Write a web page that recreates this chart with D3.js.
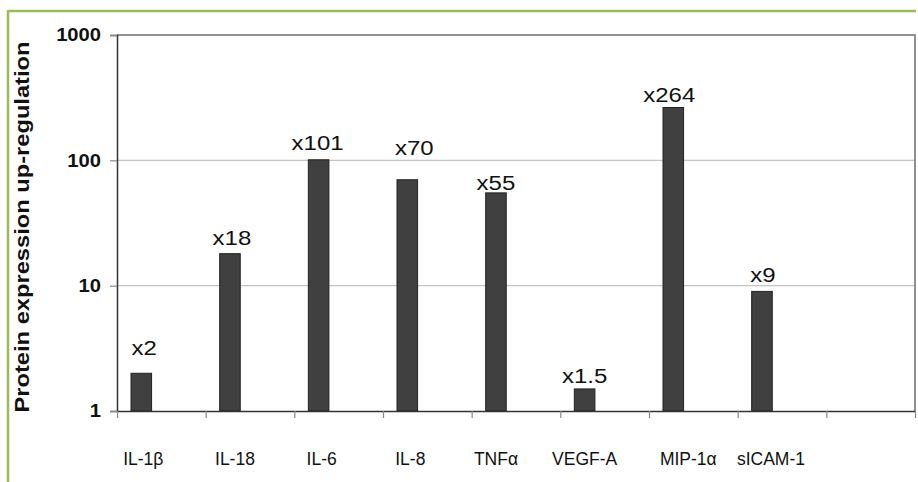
<!DOCTYPE html>
<html>
<head>
<meta charset="utf-8">
<script src="https://cdn.jsdelivr.net/npm/d3@7/dist/d3.min.js"></script>
<style>
  html, body { margin: 0; padding: 0; background: #fff; }
  svg { display: block; font-family: Arial, "Liberation Sans", Helvetica, sans-serif; }
</style>
</head>
<body>
<svg id="chart" width="918" height="482"></svg>
<script>
// Cytokine / chemokine protein up-regulation (fold change, log scale)
const categories = ["IL-1β", "IL-18", "IL-6", "IL-8", "TNFα", "VEGF-A", "MIP-1α", "sICAM-1"];
const foldChange = [2, 18, 101, 70, 55, 1.5, 264, 9];
const valueLabels = ["x2", "x18", "x101", "x70", "x55", "x1.5", "x264", "x9"];
const yTicks = [1, 10, 100, 1000];
const yTitle = "Protein expression up-regulation";

// Hand-placed annotation offsets (px): lift above bar top, horizontal shift
const labelLift = [18, 9, 10, 25, 3, 6, 5, 9];
const labelShift = [3, 2, -1, 7, 0, 0, -4, 1];
const tickLabelShift = [2, 5, 3, 3, 0, 0, 15, 9];

const svg = d3.select("#chart");
const plot = { left: 117, right: 915, top: 35, bottom: 411 };
const slots = categories.length + 1; // one empty slot at the right end

// Stretch text along its writing direction
function widen(sel, k) {
  sel.each(function () {
    const len = this.getComputedTextLength();
    d3.select(this).attr("textLength", len * k).attr("lengthAdjust", "spacingAndGlyphs");
  });
}

// Frame lines
const green = "#9bbb59";
svg.append("line").attr("x1", 8).attr("x2", 916).attr("y1", 11).attr("y2", 11)
  .attr("stroke", green).attr("stroke-width", 2.5);
svg.append("line").attr("x1", 8).attr("x2", 8).attr("y1", 10).attr("y2", 482)
  .attr("stroke", green).attr("stroke-width", 2.5);

const x = d3.scaleBand().domain(d3.range(slots)).range([plot.left, plot.right]).paddingInner(0).paddingOuter(0);
const y = d3.scaleLog().domain([1, 1000]).range([plot.bottom, plot.top]);
const bw = x.bandwidth();
const barOffset = bw * 0.158;
const barWidth = bw * 0.232;
const barCenter = i => x(i) + barOffset + barWidth / 2;

// Gridlines
svg.append("g").selectAll("line").data(yTicks.filter(t => t > 1 && t < 1000)).join("line")
  .attr("x1", plot.left).attr("x2", plot.right)
  .attr("y1", d => y(d)).attr("y2", d => y(d))
  .attr("stroke", "#c4c4c4").attr("stroke-width", 1.3);

// Plot border (top / right)
svg.append("path")
  .attr("d", `M${plot.left},${y(1000)}H${plot.right}V${plot.bottom}`)
  .attr("fill", "none").attr("stroke", "#6e6e6e").attr("stroke-width", 1.5);

// Bars
svg.append("g").selectAll("rect").data(foldChange).join("rect")
  .attr("x", (d, i) => x(i) + barOffset)
  .attr("width", barWidth)
  .attr("y", d => y(d))
  .attr("height", d => y(1) - y(d))
  .attr("fill", "#404040").attr("stroke", "#222").attr("stroke-width", 1);

// Y axis
const yAxis = d3.axisLeft(y).tickValues(yTicks).tickFormat(d3.format("d")).tickSize(7).tickPadding(9);
const gy = svg.append("g").attr("transform", `translate(${plot.left},0)`).call(yAxis);
gy.select(".domain").attr("stroke", "#333").attr("stroke-width", 1.5);
gy.selectAll(".tick line").attr("stroke", "#888").attr("stroke-width", 1.2);
gy.selectAll(".tick text").attr("font-size", 18).attr("font-weight", "bold")
  .attr("fill", "#111").attr("font-family", "Arial, 'Liberation Sans', sans-serif")
  .call(widen, 1.12);

// X axis: ticks at slot boundaries
const xAxis = d3.axisBottom(d3.scaleLinear().domain([0, slots]).range([plot.left, plot.right]))
  .tickValues(d3.range(slots + 1)).tickFormat("").tickSize(7).tickSizeOuter(0);
const gx = svg.append("g").attr("transform", `translate(0,${plot.bottom})`).call(xAxis);
gx.select(".domain").attr("stroke", "#333").attr("stroke-width", 1.5);
gx.selectAll(".tick line").attr("stroke", "#888").attr("stroke-width", 1.2);

// Category labels
svg.append("g").selectAll("text").data(categories).join("text")
  .attr("x", (d, i) => barCenter(i) + tickLabelShift[i])
  .attr("y", 465)
  .attr("text-anchor", "middle")
  .attr("font-size", 17.5).attr("fill", "#111")
  .text(d => d);

// Value annotations
svg.append("g").selectAll("text").data(foldChange).join("text")
  .attr("x", (d, i) => barCenter(i) + labelShift[i])
  .attr("y", (d, i) => y(d) - labelLift[i])
  .attr("text-anchor", "middle")
  .attr("font-size", 20.5).attr("fill", "#111")
  .text((d, i) => valueLabels[i])
  .call(widen, 1.17);

// Y axis title
svg.append("text")
  .attr("transform", `translate(29,227) rotate(-90)`)
  .attr("text-anchor", "middle")
  .attr("font-size", 19.5).attr("font-weight", "bold").attr("fill", "#111")
  .text(yTitle)
  .attr("textLength", 371).attr("lengthAdjust", "spacingAndGlyphs");
</script>
</body>
</html>
